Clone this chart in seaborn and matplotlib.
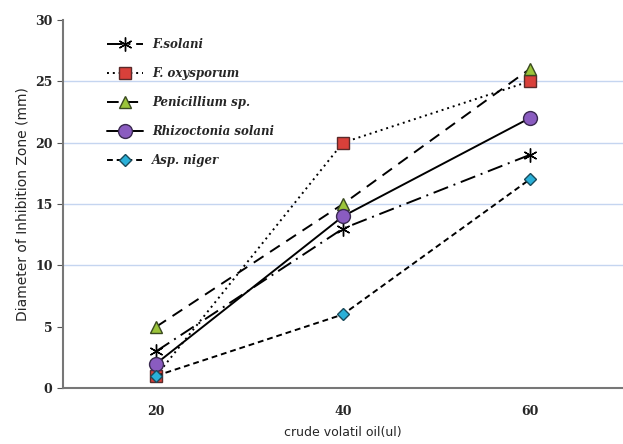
import matplotlib
matplotlib.use("Agg")
import matplotlib.pyplot as plt
import seaborn as sns
import pandas as pd

doses = ["20", "40", "60"]
f_solani = [3, 13, 19]
f_oxysporum = [1, 20, 25]
penicillium = [5, 15, 26]
rhizoctonia = [2, 14, 22]
asp_niger = [1, 6, 17]
series_names = ["F.solani", "F. oxysporum", "Penicillium sp.", "Rhizoctonia solani", "Asp. niger"]
series_values = [f_solani, f_oxysporum, penicillium, rhizoctonia, asp_niger]

rows = []
for name, vals in zip(series_names, series_values):
    for d, v in zip(doses, vals):
        rows.append({"dose": d, "value": v, "series": name})
df = pd.DataFrame(rows)

sns.set_style("white")
fig = plt.figure(figsize=(6.23, 4.44), dpi=100)
ax = fig.add_axes([0.101, 0.126, 0.899, 0.829])

styles = {
    "F.solani": dict(ls=(0, (8, 3, 1, 3)), marker=(6, 2, 0), mfc="black", mec="black", ms=10, color="black"),
    "F. oxysporum": dict(ls=(0, (1, 2)), marker="s", mfc="#d9403a", mec="#5a2a2a", ms=8, color="black"),
    "Penicillium sp.": dict(ls=(0, (6, 4)), marker="^", mfc="#9bc43a", mec="#3a4a20", ms=9, color="black"),
    "Rhizoctonia solani": dict(ls="-", marker="o", mfc="#8a5cc0", mec="#3a2a50", ms=10, color="black"),
    "Asp. niger": dict(ls=(0, (3, 2)), marker="D", mfc="#2ab0d8", mec="#1a4a5a", ms=6, color="black"),
}

for name in series_names:
    st = styles[name]
    sub = df[df["series"] == name]
    sns.lineplot(data=sub, x="dose", y="value", ax=ax, label=name, color=st["color"],
                 linestyle=st["ls"], linewidth=1.4, marker=st["marker"],
                 markerfacecolor=st["mfc"], markeredgecolor=st["mec"], markersize=st["ms"],
                 markeredgewidth=1.0)

ax.set_xlim(-0.5, 2.5)
ax.set_ylim(0, 30)
for y in [10, 15, 20, 25]:
    ax.axhline(y, color="#c5d5f0", lw=1.0, zorder=0)

ax.set_yticks([0, 5, 10, 15, 20, 25, 30])
ax.set_yticklabels(["0", "5", "10", "15", "20", "25", "30"], fontfamily="DejaVu Serif",
                   fontweight="bold", fontsize=9)
ax.set_xticks([0, 1, 2])
ax.set_xticklabels(doses, fontfamily="DejaVu Serif", fontweight="bold", fontsize=9)
ax.tick_params(axis="x", length=0, pad=12)
ax.set_xticks([0.5, 1.5], minor=True)
ax.tick_params(axis="x", which="minor", length=4, color="#555555", direction="out")
ax.tick_params(axis="y", length=4, color="#555555", direction="out", left=True)

for s in ["top", "right"]:
    ax.spines[s].set_visible(False)
for s in ["left", "bottom"]:
    ax.spines[s].set_color("#777777")
    ax.spines[s].set_linewidth(1.5)

ax.set_xlabel("crude volatil oil(ul)", fontsize=9, labelpad=6)
ax.set_ylabel("Diameter of Inhibition Zone (mm)", fontsize=10)

leg = ax.legend(loc="upper left", bbox_to_anchor=(0.06, 0.98), frameon=False,
                prop={"family": "DejaVu Serif", "style": "italic", "weight": "bold", "size": 8.5},
                labelspacing=1.35, handlelength=3.0)

fig.savefig("out.png", dpi=100)
